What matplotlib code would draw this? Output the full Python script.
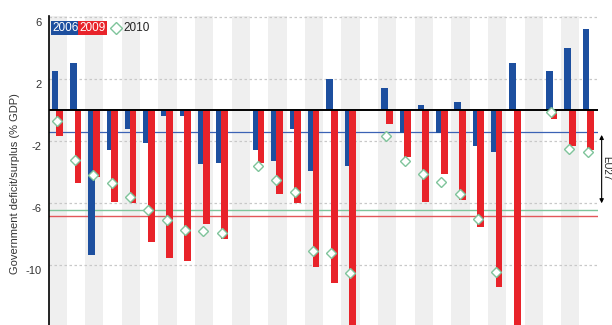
import numpy as np
import matplotlib
matplotlib.use("Agg")
import matplotlib.pyplot as plt
from matplotlib.transforms import ScaledTranslation

plt.rcParams['font.family'] = ['Liberation Sans Narrow', 'Liberation Sans', 'DejaVu Sans']

nan = np.nan
# 30 slots (27 countries + 3 group gaps)
deficit_2006 = [2.5, 3.0, -9.3, -2.6, -1.2, -2.1, -0.4, -0.4, -3.5, -3.4, nan,
                -2.6, -3.3, -1.2, -3.9, 2.0, -3.6, nan,
                1.4, -1.5, 0.3, -1.5, 0.5, -2.3, -2.7, 3.0, nan,
                2.5, 4.0, 5.2]
deficit_2009 = [-1.7, -4.7, -4.3, -5.9, -6.0, -8.5, -9.5, -9.7, -7.3, -8.3, nan,
                -3.4, -5.4, -6.0, -10.1, -11.1, -15.4, nan,
                -0.9, -3.0, -5.9, -4.1, -5.8, -7.5, -11.4, -14.3, nan,
                -0.6, -2.3, -2.6]
deficit_2010 = [-0.7, -3.2, -4.2, -4.7, -5.6, -6.4, -7.1, -7.7, -7.8, -7.9, nan,
                -3.6, -4.5, -5.3, -9.1, -9.2, -10.5, nan,
                -1.7, -3.3, -4.1, -4.6, -5.4, -7.0, -10.4, -14.7, nan,
                -0.1, -2.5, -2.7]
eu27_2006 = -1.4
eu27_2009 = -6.8
eu27_2010 = -6.4
yticks = [6, 2, -2, -6, -10]
ylabel = "Government deficit/surplus (% GDP)"

BLUE = "#1d4f9f"
RED = "#e8232a"
GREEN = "#7fc49b"
GRID = "#c8c8c8"
STRIPE = "#efefef"

W, H = 612, 325
fig = plt.figure(figsize=(W / 100, H / 100), dpi=100)
left_px, right_px = 48.5, 597.8
top_px = 16.0
ax = fig.add_axes([left_px / W, 0, (right_px - left_px) / W, (H - top_px) / H])

n = len(deficit_2006)
x = np.arange(n)
ax.set_xlim(-0.5, n - 0.5)
ax.set_ylim(-13.83, 6.05)

for i in range(0, n, 2):
    ax.axvspan(i - 0.5, i + 0.5, color=STRIPE, lw=0, zorder=0)

for t in yticks:
    ax.axhline(t, color=GRID, lw=0.9, ls=(0, (2, 2)), zorder=1)

ax.bar(x - 0.15, deficit_2006, width=0.36, color=BLUE, zorder=3, lw=0)
ax.bar(x + 0.11, deficit_2009, width=0.37, color=RED, zorder=4, lw=0)

ax.axhline(0, color="black", lw=1.4, zorder=5)
ax.axhline(eu27_2006, color="#3b62b5", lw=0.9, zorder=2)
ax.axhline(eu27_2010, color=GREEN, lw=1.0, zorder=2)
ax.axhline(eu27_2009, color="#e2575a", lw=1.0, zorder=2)

ax.plot(x - 0.05, deficit_2010, ls="none", marker="D", ms=5.2, mfc="white",
        mec=GREEN, mew=1.0, zorder=6)

for s in ["top", "right", "bottom"]:
    ax.spines[s].set_visible(False)
ax.spines["left"].set_color("black")
ax.spines["left"].set_linewidth(1.2)
ax.set_xticks([])
ax.set_yticks(yticks)
ax.set_yticklabels([str(t) for t in yticks])
ax.tick_params(axis="y", length=0, pad=5, labelsize=8, colors="#333333")
off = ScaledTranslation(0, -5 / 100, fig.dpi_scale_trans)
for lab in ax.get_yticklabels():
    lab.set_transform(lab.get_transform() + off)

# EU27 arrow
ax.annotate("", xy=(29.71, -6.0), xytext=(29.71, -1.6),
            arrowprops=dict(arrowstyle="<|-|>", color="black", lw=0.8,
                            mutation_scale=6, shrinkA=0, shrinkB=0),
            annotation_clip=False)
fig.text(606.5 / W, 1 - 168 / H, "EU27", rotation=270, ha="center", va="center",
         fontsize=7, color="#222222")

# legend
fig.text(66 / W, 1 - 28 / H, "2006", color="white", fontsize=8.5, ha="center", va="center",
         bbox=dict(boxstyle="square,pad=0.12", fc=BLUE, ec="none"))
fig.text(92.5 / W, 1 - 28 / H, "2009", color="white", fontsize=8.5, ha="center", va="center",
         bbox=dict(boxstyle="square,pad=0.12", fc=RED, ec="none"))
ax.plot([115.5 / W], [1 - 28 / H], transform=fig.transFigure, marker="D", ms=6.5,
        mfc="white", mec=GREEN, mew=1.0, clip_on=False, zorder=10)
fig.text(123 / W, 1 - 28 / H, "2010", color="#222222", fontsize=8.5, ha="left", va="center")

fig.text(15 / W, 1 - 184 / H, ylabel, rotation=90, ha="center", va="center",
         fontsize=8, color="#333333")

fig.savefig("out.png", dpi=100)
